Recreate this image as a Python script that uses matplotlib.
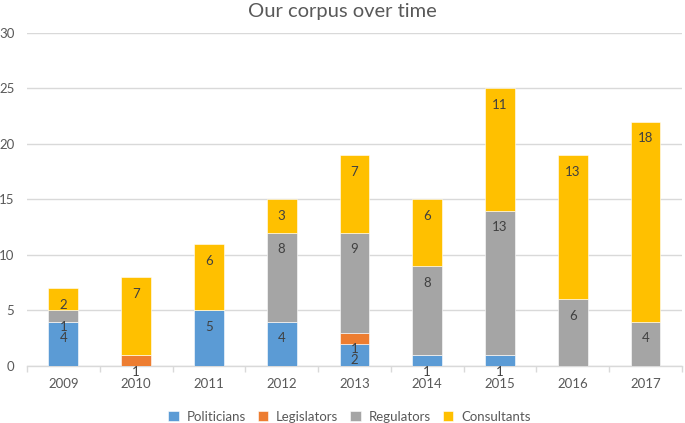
import matplotlib
matplotlib.use("Agg")
import matplotlib.pyplot as plt
import numpy as np

years = ["2009", "2010", "2011", "2012", "2013", "2014", "2015", "2016", "2017"]
politicians = [4, 0, 5, 4, 2, 1, 1, 0, 0]
legislators = [0, 1, 0, 0, 1, 0, 0, 0, 0]
regulators = [1, 0, 0, 8, 9, 8, 13, 6, 4]
consultants = [2, 7, 6, 3, 7, 6, 11, 13, 18]

series = [("Politicians", politicians, "#5B9BD5"),
          ("Legislators", legislators, "#ED7D31"),
          ("Regulators", regulators, "#A5A5A5"),
          ("Consultants", consultants, "#FFC000")]

plt.rcParams['font.family'] = ['Lato', 'DejaVu Sans']
text_color = "#595959"

fig = plt.figure(figsize=(6.85, 4.23), dpi=100)
ax = fig.add_axes([0.0394, 0.1348, 0.956, 0.7872])

x = np.arange(len(years))
bottom = np.zeros(len(years))
for name, vals, col in series:
    vals = np.array(vals, dtype=float)
    ax.bar(x, vals, width=0.41, bottom=bottom, color=col, label=name,
           edgecolor="white", linewidth=0.4, zorder=3)
    tops = bottom + vals
    for xi, v, t in zip(x, vals, tops):
        if v > 0:
            ax.annotate(f"{int(v)}", xy=(xi, t), xytext=(0, -12),
                        textcoords="offset points", ha="center", va="center",
                        fontsize=9.5, color="#404040", zorder=5,
                        annotation_clip=False)
    bottom = tops

ax.set_xlim(-0.5, len(years) - 0.5)
ax.set_ylim(0, 30)
ax.set_yticks(range(0, 31, 5))
ax.set_xticks(x)
ax.set_xticklabels(years)
ax.set_xticks(np.arange(-0.5, len(years), 1), minor=True)
ax.tick_params(axis="x", which="major", length=0, pad=9, labelsize=9.5, labelcolor=text_color)
ax.tick_params(axis="x", which="minor", length=4, color="#D9D9D9", width=1)
ax.tick_params(axis="y", length=0, pad=9, labelsize=9.5, labelcolor=text_color)
ax.grid(axis="y", color="#D9D9D9", linewidth=1, zorder=0)
for s in ["top", "right", "left"]:
    ax.spines[s].set_visible(False)
ax.spines["bottom"].set_color("#D9D9D9")
ax.spines["bottom"].set_linewidth(1)
ax.spines["bottom"].set_zorder(2)

fig.text(0.5, 0.972, "Our corpus over time", ha="center", va="center",
         fontsize=14.5, color=text_color)

fig.legend(loc="lower center", ncol=4, frameon=False, bbox_to_anchor=(0.51, -0.028),
           handlelength=0.8, handleheight=0.8, fontsize=9.5, labelcolor=text_color,
           columnspacing=0.9, handletextpad=0.6)

fig.savefig("out.png", dpi=100)
